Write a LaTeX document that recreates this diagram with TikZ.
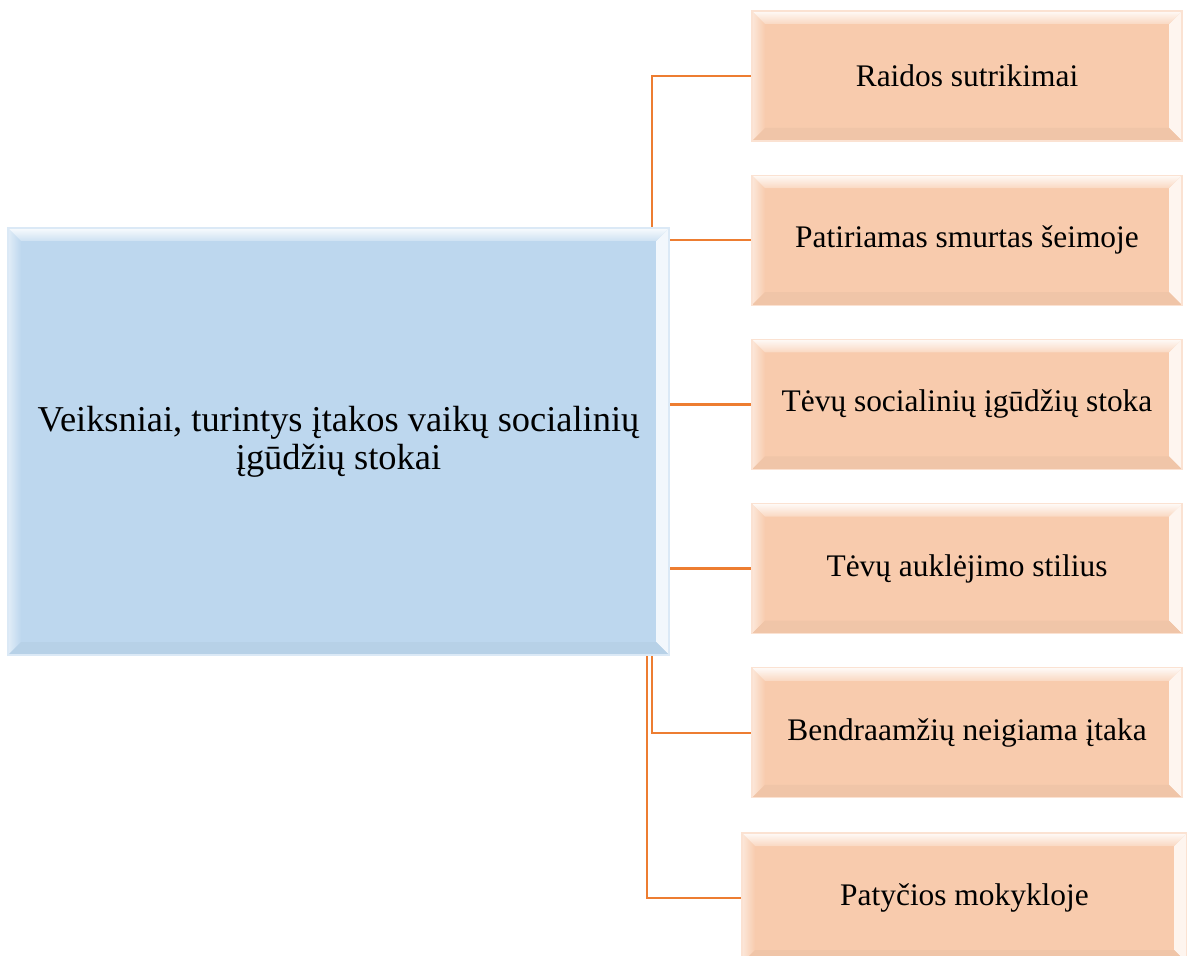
\documentclass[tikz,border=0pt]{standalone}
\usepackage{fontspec}
\setmainfont{Liberation Serif}
\usetikzlibrary{backgrounds,positioning}
\definecolor{peach}{HTML}{F8CBAD}
\definecolor{paleblue}{HTML}{BDD7EE}
\definecolor{linkorange}{HTML}{ED7D31}
\newcommand{\bevw}{6.5pt}
\tikzset{
  bevel/.style={
    fill=#1,
    draw=#1!55!white,
    line width=0.6pt,
    path picture={
      \path (path picture bounding box.north west) coordinate (bnw)
            (path picture bounding box.north east) coordinate (bne)
            (path picture bounding box.south west) coordinate (bsw)
            (path picture bounding box.south east) coordinate (bse);
      % left and right edges
      \shade[left color=#1!45!white, right color=#1]
        (bnw) -- ([shift={(\bevw,-\bevw)}]bnw)
        -- ([shift={(\bevw,\bevw)}]bsw) -- (bsw) -- cycle;
      \fill[#1!20!white] (bne) -- ([shift={(-\bevw,-\bevw)}]bne)
        -- ([shift={(-\bevw,\bevw)}]bse) -- (bse) -- cycle;
      % bottom and top edges
      \fill[#1!97!black] (bsw) -- ([shift={(\bevw,\bevw)}]bsw)
        -- ([shift={(-\bevw,\bevw)}]bse) -- (bse) -- cycle;
      \shade[top color=#1!10!white, bottom color=#1!75!white]
        (bnw) -- (bne) -- ([shift={(-\bevw,-\bevw)}]bne)
        -- ([shift={(\bevw,-\bevw)}]bnw) -- cycle;
    }
  },
  cause/.style={
    bevel=peach,
    minimum width=215pt,
    minimum height=65pt,
    inner sep=0pt,
    font=\fontsize{15.7}{19}\selectfont
  },
  factor/.style={
    bevel=paleblue,
    minimum width=330.5pt,
    minimum height=213.5pt,
    inner sep=0pt,
    align=center,
    font=\fontsize{18.2}{19}\selectfont
  },
  link/.style={draw=linkorange, line width=1.2pt}
}
\begin{document}
\begin{tikzpicture}[x=0.5pt, y=-0.5pt]
  \useasboundingbox (0,0) rectangle (1187,956);

  \coordinate (trunk) at (652,0);
  \coordinate (trunk6) at (647,0);

  % Main box
  \node[factor] (main) at (338.5,441.5)
    {Veiksniai, turintys įtakos vaikų socialinių\\ įgūdžių stokai};

  % Causes
  \node[cause] (r1) at (967,76) {Raidos sutrikimai};
  \node[cause, below=16.5pt of r1] (r2) {Patiriamas smurtas šeimoje};
  \node[cause, below=16.5pt of r2] (r3) {Tėvų socialinių įgūdžių stoka};
  \node[cause, below=16.5pt of r3] (r4) {Tėvų auklėjimo stilius};
  \node[cause, below=16.5pt of r4] (r5) {Bendraamžių neigiama įtaka};
  \node[cause, below=17pt of r5, xshift=-1.25pt, minimum width=222.5pt,
        minimum height=65pt] (r6) {Patyčios mokykloje};

  % Connectors
  \begin{scope}[on background layer]
    \foreach \r in {r1,r2,r3,r4,r5}
      \draw[link] (main.center -| trunk) |- (\r.west);
    \draw[link] (main.center -| trunk6) |- (r6.west);
  \end{scope}
\end{tikzpicture}
\end{document}
